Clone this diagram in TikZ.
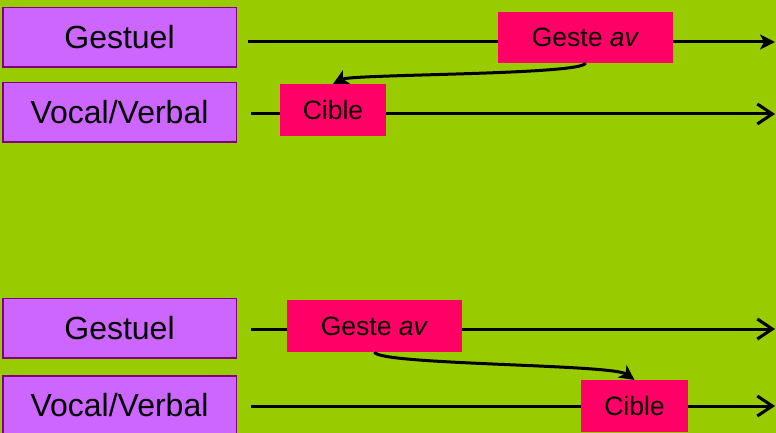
\documentclass[tikz,border=0pt]{standalone}
\usepackage{fontspec}
\setmainfont{Liberation Sans}
\usetikzlibrary{arrows.meta}
\definecolor{bggreen}{HTML}{99CC00}
\definecolor{lilac}{HTML}{CC66FF}
\definecolor{lilacborder}{HTML}{800080}
\definecolor{pinkbox}{HTML}{FF0066}
\tikzset{
  modality/.style={draw=lilacborder, line width=1.5pt, fill=lilac, inner sep=0pt, outer sep=0pt,
    minimum width=233.5pt, minimum height=59.5pt, font=\fontsize{32}{38}\selectfont},
  event/.style={fill=pinkbox, inner sep=0pt, outer sep=0pt, font=\fontsize{26.5}{31}\selectfont},
  timeline/.style={line width=3pt, -{Straight Barb[length=15pt, width=20pt, line width=3pt]}},
  timelinefilled/.style={line width=3pt, -{Stealth[length=15pt, width=15pt, inset=4pt]}},
  link/.style={line width=3pt, -{Stealth[length=15pt, width=15pt, inset=4pt]}}
}
\begin{document}
\begin{tikzpicture}[x=1pt, y=-1pt]
  \fill[bggreen] (0,0) rectangle (776,433);
  \useasboundingbox (0,0) rectangle (776,433);
  % line end points
  \coordinate (s1) at (248,42);  \coordinate (e1) at (775,42);
  \coordinate (s2) at (251,114); \coordinate (e2) at (775,114);
  \coordinate (s3) at (251,329); \coordinate (e3) at (775,329);
  \coordinate (s4) at (251,406); \coordinate (e4) at (775,406);
  \draw[timelinefilled] (s1) -- (e1);
  \draw[timeline] (s2) -- (e2);
  \draw[timeline] (s3) -- (e3);
  \draw[timeline] (s4) -- (e4);
  % modality boxes
  \node[modality] (g1) at (119.5,37.5) {Gestuel};
  \node[modality] (v1) at (119.5,112.5) {Vocal/Verbal};
  \node[modality] (g2) at (119.5,328) {Gestuel};
  \node[modality] (v2) at (119.5,405.5) {Vocal/Verbal};
  % events
  \node[event, minimum width=175pt, minimum height=51pt] (ga1) at (585.5,37.5) {Geste \textit{av}};
  \node[event, minimum width=106pt, minimum height=52pt] (c1) at (333,110) {Cible};
  \node[event, minimum width=175pt, minimum height=52pt] (ga2) at (374.5,326) {Geste \textit{av}};
  \node[event, minimum width=107pt, minimum height=52pt] (c2) at (634.5,406) {Cible};
  % links
  \draw[link] (ga1.south) .. controls (584,75) and (352,74) .. (c1.north);
  \draw[link] (ga2.south) .. controls (377,365) and (612,364) .. (c2.north);
\end{tikzpicture}
\end{document}
